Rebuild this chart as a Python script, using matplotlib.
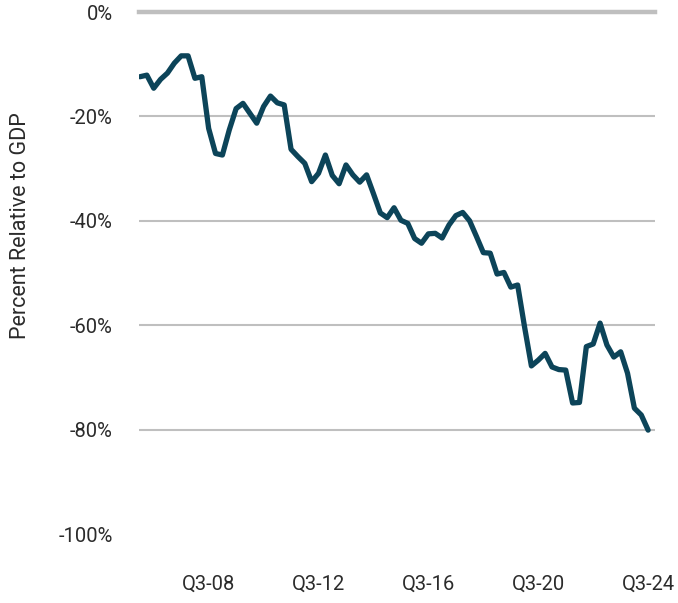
import numpy as np
import matplotlib.pyplot as plt

plt.rcParams['font.family'] = ['Roboto', 'DejaVu Sans']

# quarterly series, Q1-06 .. Q3-24
quarters = [f"Q{q}-{y:02d}" for y in range(6, 25) for q in range(1, 5)][:75]
pct_gdp = [
    -12.4, -12.1, -14.6, -12.9, -11.7, -9.8, -8.4, -8.4, -12.7, -12.4,
    -22.3, -27.1, -27.4, -22.6, -18.5, -17.5, -19.4, -21.3, -18.1, -16.1,
    -17.4, -17.8, -26.3, -27.7, -29.0, -32.5, -30.9, -27.4, -31.3, -32.9,
    -29.3, -31.2, -32.6, -31.2, -34.8, -38.5, -39.4, -37.5, -39.9, -40.5,
    -43.4, -44.3, -42.5, -42.4, -43.3, -40.8, -39.0, -38.4, -40.0, -43.0,
    -46.1, -46.2, -50.2, -49.9, -52.7, -52.3, -60.3, -67.8, -66.7, -65.4,
    -68.0, -68.5, -68.6, -74.9, -74.8, -64.1, -63.6, -59.6, -63.8, -66.1,
    -65.1, -69.2, -75.9, -77.2, -80.1,
]
tick_labels = ["Q3-08", "Q3-12", "Q3-16", "Q3-20", "Q3-24"]
y_ticks = [0, -20, -40, -60, -80, -100]

text_color = '#2b2b2b'
line_color = '#0c4459'
grid_color = '#bfbfbf'

fig = plt.figure(figsize=(6.78, 6.03), dpi=100)
ax = fig.add_axes([139.3 / 678, 69 / 603, 515.7 / 678, 522 / 603])

x = np.arange(len(pct_gdp))

# gridlines, the zero line is drawn heavier
for yv in y_ticks[1:-1]:
    ax.axhline(yv, color=grid_color, lw=1.5, zorder=1)
ax.axhline(0, color=grid_color, lw=3.2, zorder=1, clip_on=False)

ax.plot(x, pct_gdp, color=line_color, lw=3.8, solid_capstyle='round', zorder=3)

ax.set_xlim(-0.1, 75)
ax.set_ylim(-100, 0)

ax.set_xticks([quarters.index(t) for t in tick_labels])
ax.set_xticklabels(tick_labels)
ax.set_yticks(y_ticks)
ax.set_yticklabels([f"{v}%" for v in y_ticks])
ax.tick_params(axis='x', length=0, pad=29, labelsize=14.5, labelcolor=text_color)
ax.tick_params(axis='y', length=0, pad=19, labelsize=14.5, labelcolor=text_color)

for s in ax.spines.values():
    s.set_visible(False)

fig.text(21 / 678, 1 - 226 / 603, 'Percent Relative to GDP', rotation=90,
         ha='center', va='center', fontsize=15.5, color=text_color)

fig.savefig('out.png', dpi=100)
